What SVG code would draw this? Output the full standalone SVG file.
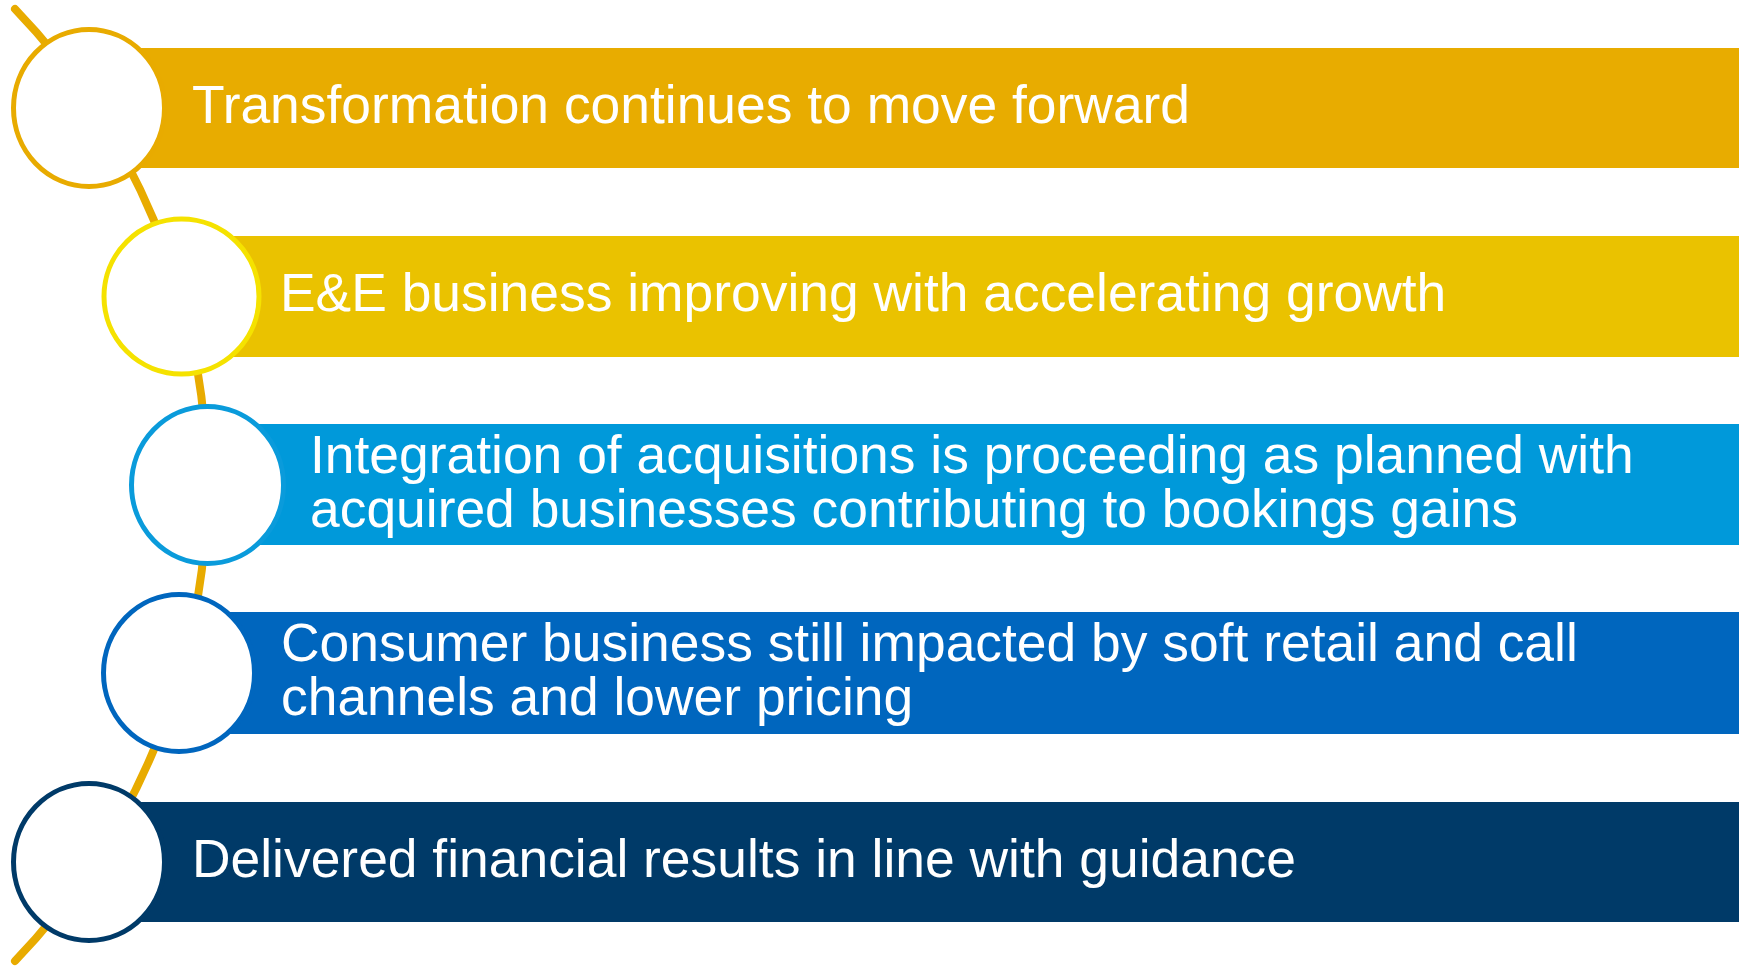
<svg xmlns="http://www.w3.org/2000/svg" width="1744" height="966" viewBox="0 0 1744 966">
  <style>
    .label { font-family: "Liberation Sans", Arial, sans-serif; font-size: 53.4px; fill: #FFFFFF; }
    .ring { fill: #FFFFFF; stroke-width: 5; }
  </style>
  <rect width="1744" height="966" fill="#FFFFFF"/>

  <!-- spine arc behind the list -->
  <g id="connectors">
    <path d="M 15 9 A 686 686 0 0 1 15 961" fill="none" stroke="#E8AB00" stroke-width="8" stroke-linecap="round"/>
  </g>

  <g id="item1">
    <rect x="89" y="48" width="1650" height="120" fill="#E8AC00"/>
    <ellipse class="ring" cx="89" cy="108" rx="75.5" ry="78.5" stroke="#E8AB00"/>
    <text class="label" x="192" y="123">Transformation continues to move forward</text>
  </g>

  <g id="item2">
    <rect x="181" y="236" width="1558" height="121" fill="#EAC200"/>
    <ellipse class="ring" cx="181.5" cy="296.5" rx="77.5" ry="77.5" stroke="#F5E200" stroke-width="6"/>
    <text class="label" x="280" y="311">E&amp;E business improving with accelerating growth</text>
  </g>

  <g id="item3">
    <rect x="207" y="424" width="1532" height="121" fill="#0099DA"/>
    <ellipse class="ring" cx="207.5" cy="485" rx="76" ry="78.5" stroke="#0A9BDB"/>
    <text class="label" x="310" y="473">Integration of acquisitions is proceeding as planned with</text>
    <text class="label" x="310" y="527">acquired businesses contributing to bookings gains</text>
  </g>

  <g id="item4">
    <rect x="179" y="612" width="1560" height="122" fill="#0066BE"/>
    <ellipse class="ring" cx="179" cy="673" rx="75.5" ry="78.5" stroke="#0066BE"/>
    <text class="label" x="281" y="661">Consumer business still impacted by soft retail and call</text>
    <text class="label" x="281" y="715">channels and lower pricing</text>
  </g>

  <g id="item5">
    <rect x="89" y="802" width="1650" height="120" fill="#003A68"/>
    <ellipse class="ring" cx="89" cy="862" rx="75.5" ry="78.5" stroke="#003A68"/>
    <text class="label" x="192" y="877">Delivered financial results in line with guidance</text>
  </g>
</svg>
